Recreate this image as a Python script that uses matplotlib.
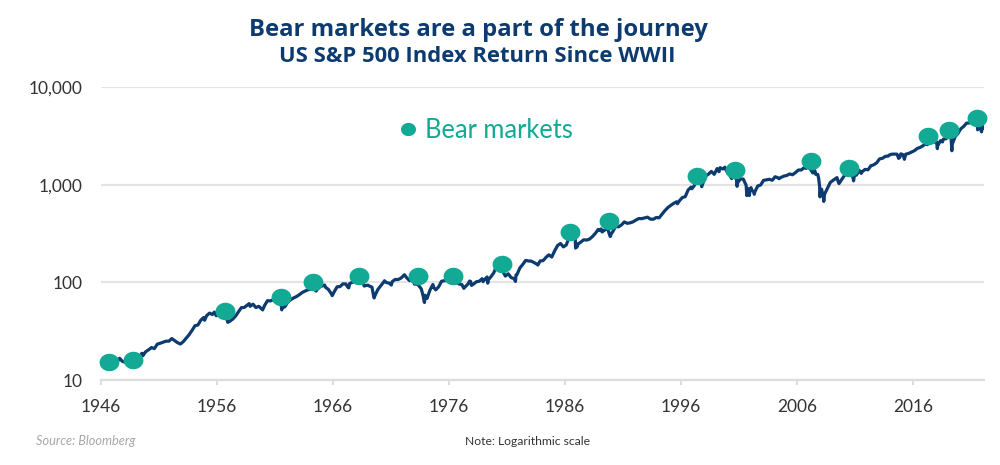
import matplotlib
matplotlib.use("Agg")
import matplotlib.pyplot as plt
from matplotlib.path import Path
from matplotlib.lines import Line2D
from matplotlib.ticker import NullLocator
import numpy as np

plt.rcParams['font.family'] = ['Lato', 'DejaVu Sans']

# ---------------- data (x in chart-axis years) ----------------
line_year = [
    1946.10, 1946.35, 1946.60, 1946.85,
    1947.10, 1947.35, 1947.60, 1947.85,
    1948.10, 1948.35, 1948.55, 1948.60, 1948.85,
    1949.10, 1949.35, 1949.52, 1949.60, 1949.85,
    1950.10, 1950.35, 1950.60, 1950.85,
    1951.10, 1951.35, 1951.60, 1951.85,
    1952.10, 1952.35, 1952.60, 1952.85,
    1953.10, 1953.35, 1953.60, 1953.85,
    1954.10, 1954.35, 1954.60, 1954.85, 1954.93,
    1955.10, 1955.35, 1955.60, 1955.77, 1955.93,
    1956.10, 1956.35, 1956.60, 1956.68, 1956.93,
    1957.10, 1957.35, 1957.60, 1957.85,
    1958.10, 1958.35, 1958.60, 1958.77, 1958.85,
    1959.10, 1959.35, 1959.60, 1959.93,
    1960.10, 1960.35, 1960.60, 1960.85,
    1961.10, 1961.35, 1961.52, 1961.58, 1961.60, 1961.85,
    1962.10, 1962.35, 1962.60, 1962.85,
    1963.10, 1963.35, 1963.60, 1963.85,
    1964.10, 1964.35, 1964.55, 1964.60, 1964.85,
    1965.10, 1965.27, 1965.35, 1965.60, 1965.85, 1965.93,
    1966.10, 1966.35, 1966.60, 1966.85,
    1967.10, 1967.27, 1967.35, 1967.43, 1967.60, 1967.85,
    1968.02, 1968.10, 1968.35, 1968.60, 1968.68, 1968.85,
    1969.02, 1969.10, 1969.35, 1969.50, 1969.54, 1969.60, 1969.85,
    1970.10, 1970.35, 1970.43, 1970.60, 1970.85,
    1971.02, 1971.10, 1971.35, 1971.60, 1971.85,
    1972.10, 1972.15, 1972.35, 1972.60, 1972.85,
    1973.02, 1973.10, 1973.35, 1973.60, 1973.68, 1973.77, 1973.85, 1973.88, 1973.93,
    1974.02, 1974.10, 1974.35, 1974.60, 1974.68, 1974.85,
    1975.10, 1975.35, 1975.60, 1975.85,
    1976.10, 1976.35, 1976.60, 1976.85,
    1977.10, 1977.27, 1977.35, 1977.60, 1977.77, 1977.85, 1977.93,
    1978.02, 1978.10, 1978.35, 1978.60, 1978.85, 1978.93,
    1979.02, 1979.10, 1979.27, 1979.33, 1979.38, 1979.60, 1979.85,
    1980.02, 1980.10, 1980.35, 1980.60, 1980.85,
    1981.10, 1981.35, 1981.60, 1981.72, 1981.77, 1981.85,
    1982.10, 1982.35, 1982.60, 1982.85,
    1983.10, 1983.35, 1983.60, 1983.65, 1983.85,
    1984.10, 1984.35, 1984.60, 1984.85,
    1985.10, 1985.35, 1985.60, 1985.85,
    1986.10, 1986.35, 1986.60, 1986.77, 1986.85, 1986.90, 1986.93,
    1987.02, 1987.10, 1987.35, 1987.60, 1987.85,
    1988.10, 1988.35, 1988.60, 1988.85, 1988.93,
    1989.10, 1989.18, 1989.35, 1989.60, 1989.65, 1989.77, 1989.85, 1989.88, 1989.93,
    1990.02, 1990.10, 1990.35, 1990.60, 1990.85,
    1991.10, 1991.35, 1991.60, 1991.85,
    1992.10, 1992.35, 1992.60, 1992.85,
    1993.10, 1993.35, 1993.60, 1993.85,
    1994.10, 1994.35, 1994.60, 1994.85,
    1995.10, 1995.35, 1995.60, 1995.68, 1995.85,
    1996.10, 1996.35, 1996.60, 1996.85, 1996.93,
    1997.10, 1997.35, 1997.60, 1997.68, 1997.77, 1997.85,
    1998.10, 1998.35, 1998.60, 1998.85,
    1999.10, 1999.18, 1999.27, 1999.35, 1999.60, 1999.77, 1999.85,
    2000.02, 2000.10, 2000.35, 2000.60, 2000.77, 2000.82, 2000.85,
    2001.10, 2001.35, 2001.60, 2001.66, 2001.68, 2001.77, 2001.85, 2001.88, 2001.93,
    2002.02, 2002.10, 2002.27, 2002.30, 2002.35, 2002.60, 2002.85,
    2003.10, 2003.35, 2003.60, 2003.85,
    2004.10, 2004.35, 2004.43, 2004.60, 2004.85,
    2005.10, 2005.35, 2005.60, 2005.85,
    2006.10, 2006.35, 2006.60, 2006.77, 2006.85, 2006.93,
    2007.02, 2007.10, 2007.35, 2007.52, 2007.60, 2007.77, 2007.85, 2007.93, 2007.97,
    2008.02, 2008.10, 2008.18, 2008.27, 2008.29, 2008.35, 2008.60, 2008.85,
    2009.10, 2009.35, 2009.43, 2009.52, 2009.60, 2009.85,
    2010.10, 2010.35, 2010.43, 2010.60, 2010.77, 2010.85, 2010.86, 2010.93,
    2011.10, 2011.35, 2011.52, 2011.60, 2011.85,
    2012.10, 2012.35, 2012.60, 2012.85,
    2013.10, 2013.35, 2013.60, 2013.85, 2013.93,
    2014.10, 2014.35, 2014.60, 2014.75, 2014.77, 2014.85, 2014.93,
    2015.10, 2015.18, 2015.24, 2015.35, 2015.60, 2015.85,
    2016.10, 2016.35, 2016.60, 2016.85,
    2017.10, 2017.17, 2017.19, 2017.20, 2017.27, 2017.35, 2017.60, 2017.83, 2017.93,
    2018.02, 2018.08, 2018.10, 2018.35, 2018.52, 2018.60, 2018.85,
    2019.10, 2019.18, 2019.24, 2019.27, 2019.33, 2019.35, 2019.60, 2019.85,
    2020.10, 2020.35, 2020.60, 2020.85,
    2021.10, 2021.11, 2021.18, 2021.29, 2021.35, 2021.43, 2021.52, 2021.55,
    2021.60, 2021.68, 2021.72, 2021.77, 2021.85, 2021.89, 2021.93,
    2022.02, 2022.10,
]
line_value = [
    15.3, 15.2, 15.2, 15.1,
    15.3, 15.1, 16.7, 15.5,
    15.2, 15.1, 13.6, 14.2, 15.6,
    16.8, 17.3, 18.8, 17.7, 19.5,
    20.4, 21.5, 21.0, 23.3,
    23.8, 24.4, 25.0, 25.0,
    26.6, 25.3, 24.1, 23.4,
    24.8, 26.9, 29.2, 32.3,
    36.0, 36.6, 41.0, 43.7, 41.0,
    45.5, 48.5, 46.9, 49.7, 45.6,
    46.7, 44.1, 47.4, 49.1, 39.0,
    40.0, 42.1, 45.2, 50.1,
    55.2, 55.4, 58.5, 60.7, 56.9,
    59.9, 55.3, 56.9, 52.3,
    58.1, 65.1, 64.6, 66.7,
    71.6, 69.6, 59.6, 52.3, 54.8, 56.3,
    63.1, 66.6, 69.4, 71.7,
    75.0, 79.0, 81.7, 84.2,
    84.8, 86.2, 81.6, 84.1, 90.0,
    92.4, 94.0, 89.2, 84.7, 76.6, 73.2,
    80.3, 90.2, 90.6, 96.7,
    96.5, 89.4, 88.0, 97.5, 99.6, 102.7,
    108.4, 103.9, 101.5, 97.7, 91.8, 93.1,
    93.8, 92.1, 89.6, 72.0, 69.3, 72.7, 84.3,
    92.2, 100.3, 104.0, 99.7, 98.3,
    94.0, 102.1, 107.2, 107.1, 110.6,
    118.1, 119.9, 111.5, 104.3, 108.4,
    96.0, 97.6, 94.0, 86.0, 79.3, 72.2, 63.5, 62.3, 73.9,
    70.0, 68.6, 83.4, 95.2, 88.8, 83.9,
    90.2, 102.8, 104.3, 105.2,
    107.5, 98.4, 100.5, 96.5,
    95.1, 87.0, 89.2, 95.5, 103.3, 102.5, 93.2,
    94.7, 96.1, 101.6, 102.9, 109.3, 101.8,
    106.2, 107.9, 113.7, 98.2, 106.3, 114.2, 125.5,
    140.5, 135.8, 136.0, 131.2, 116.2,
    122.6, 112.0, 109.6, 102.4, 119.5, 120.4,
    140.6, 153.0, 168.1, 166.1,
    164.9, 159.2, 153.2, 150.7, 166.1,
    167.2, 180.7, 191.9, 182.1,
    211.3, 238.9, 250.8, 231.3,
    242.2, 291.7, 304.0, 329.8, 321.8, 224.8, 251.8,
    230.3, 247.1, 258.9, 273.5, 271.9,
    277.7, 294.9, 318.0, 349.2, 340.4,
    353.4, 329.1, 339.9, 358.0, 368.9, 322.6, 306.1, 295.5, 304.0,
    322.2, 330.2, 375.2, 371.2, 387.9,
    417.1, 403.7, 408.1, 417.8,
    435.7, 451.7, 450.5, 458.9,
    466.5, 445.8, 444.3, 462.7,
    459.3, 500.7, 544.8, 584.4,
    615.9, 645.5, 670.6, 640.0, 687.3,
    740.7, 757.1, 885.1, 947.3, 914.6,
    970.4, 1101.8, 1133.8, 1120.7, 957.3, 1017.0,
    1229.2, 1286.4, 1372.7, 1282.7,
    1469.3, 1394.5, 1366.4, 1498.6, 1454.6, 1517.7, 1436.5,
    1315.2, 1320.3, 1160.3, 1224.4, 1133.6, 965.8, 1040.9,
    1148.1, 1147.4, 989.8, 776.8, 911.6, 916.1, 815.3, 776.8, 885.8,
    936.3, 879.8, 841.2, 800.7, 848.2, 974.5, 996.0,
    1111.9, 1126.2, 1140.8, 1114.6,
    1211.9, 1180.6, 1156.9, 1191.3, 1228.8,
    1248.3, 1294.8, 1270.2, 1335.9,
    1418.3, 1420.9, 1503.4, 1474.0, 1526.8, 1549.4,
    1481.1, 1468.4, 1322.7, 1400.4, 1280.0, 1282.8, 1166.4, 968.8, 752.4,
    896.2, 903.3, 825.9, 735.1, 676.5, 797.9, 919.3, 1057.1,
    1115.1, 1169.4, 1186.7, 1089.4, 1030.7, 1141.2,
    1257.6, 1325.8, 1363.6, 1320.6, 1218.9, 1131.4, 1099.2, 1253.3,
    1257.6, 1408.5, 1310.3, 1362.2, 1440.7,
    1426.2, 1569.2, 1606.3, 1681.6,
    1848.4, 1872.3, 1960.2, 1972.3, 2018.1,
    2058.9, 2067.9, 2063.1, 1867.6, 1972.2, 1920.0, 2079.4,
    2043.9, 1940.2, 1829.1, 2059.7, 2098.9, 2168.3,
    2238.8, 2362.7, 2423.4, 2519.4,
    2673.6, 2872.9, 2823.8, 2581.0, 2713.8, 2640.9, 2718.4, 2930.8, 2711.7,
    2760.2, 2351.1, 2506.9, 2834.4, 2752.1, 2941.8, 2976.7,
    3230.8, 3225.5, 3386.2, 2954.2, 2237.4, 2584.6, 3100.3, 3363.0,
    3756.1, 3972.9, 4297.5, 4307.5,
    4766.2, 4796.6, 4515.6, 4170.7, 4530.4, 4131.9, 4132.2, 3667.0,
    3785.4, 4130.3, 4305.2, 3955.0, 3585.6, 3491.6, 3872.0,
    4080.1, 3839.5,
]

bear_year = [1946.7, 1948.8, 1956.7, 1961.5, 1964.3, 1968.2, 1973.3, 1976.3, 1980.6,
             1986.4, 1989.8, 1997.4, 2000.6, 2007.2, 2010.5, 2017.3, 2019.1, 2021.5]
bear_value = [15.3, 16.0, 51, 71, 100, 116, 116, 116, 155,
              332, 430, 1245, 1426, 1760, 1500, 3200, 3640, 4790]

x_ticks = [1946, 1956, 1966, 1976, 1986, 1996, 2006, 2016]
x_labels = ["1946", "1956", "1966", "1976", "1986", "1996", "2006", "2016"]
y_ticks = [10, 100, 1000, 10000]
y_labels = ["10", "100", "1,000", "10,000"]

title = "Bear markets are a part of the journey"
subtitle = "US S&P 500 Index Return Since WWII"
legend_label = "Bear markets"
source_text = "Source: Bloomberg"
note_text = "Note: Logarithmic scale"

NAVY = "#0d3b70"
TEAL = "#12aa95"
GRID = "#e4e4e4"

assert len(line_year) == len(line_value)

# ---------------- figure ----------------
fig = plt.figure(figsize=(10, 4.65), dpi=100)
ax = fig.add_axes([0.101, 1 - 380 / 465, 0.883, (380 - 87.3) / 465])
ax.set_yscale("log")
ax.set_ylim(10, 10000)
ax.set_xlim(1946, 2022.1)

ax.plot(line_year, line_value, color=NAVY, lw=2.3, solid_joinstyle="round", zorder=2)

theta = np.linspace(0, 2 * np.pi, 80)
ell = Path(np.column_stack([np.cos(theta), 0.88 * np.sin(theta)]), closed=True)
ax.plot(bear_year, bear_value, ls="none", marker=ell, markersize=14.3,
        color=TEAL, markeredgewidth=0, zorder=3, clip_on=False)

ax.set_yticks(y_ticks)
ax.set_yticklabels(y_labels)
ax.yaxis.set_minor_locator(NullLocator())
ax.set_xticks(x_ticks)
ax.set_xticklabels(x_labels)
ax.xaxis.set_minor_locator(NullLocator())

ax.yaxis.grid(True, color=GRID, lw=1.6, zorder=0)
ax.set_axisbelow(True)
for s in ["left", "right", "top"]:
    ax.spines[s].set_visible(False)
ax.spines["bottom"].set_color("#dcdcdc")
ax.spines["bottom"].set_linewidth(1.6)

ax.tick_params(axis="y", length=0, pad=13, labelsize=12.5, labelcolor="#333333")
ax.tick_params(axis="x", length=3.6, width=1.2, color="#d6d6d6", pad=10,
               labelsize=12.5, labelcolor="#333333")

# legend
fig.add_artist(Line2D([0.408], [1 - 129 / 465], marker=ell, markersize=10.8,
                      color=TEAL, markeredgewidth=0, ls="none",
                      transform=fig.transFigure))
fig.text(0.425, 1 - 138.3 / 465, legend_label, fontsize=18.4, color=TEAL, va="baseline")

# titles
title_font = ['Open Sans', 'DejaVu Sans']
fig.text(0.478, 1 - 36 / 465, title, ha="center", va="baseline", family=title_font,
         fontsize=17.2, fontweight="bold", color=NAVY)
fig.text(0.477, 1 - 62.3 / 465, subtitle, ha="center", va="baseline", family=title_font,
         fontsize=15.8, fontweight="bold", color=NAVY)

# footer
fig.text(0.036, 1 - 445 / 465, source_text, fontsize=9.2, style="italic",
         color="#a8a8a8", va="baseline")
fig.text(0.465, 1 - 445 / 465, note_text, fontsize=8.7, color="#333333", va="baseline")

fig.savefig("out.png", dpi=100, facecolor="white")
